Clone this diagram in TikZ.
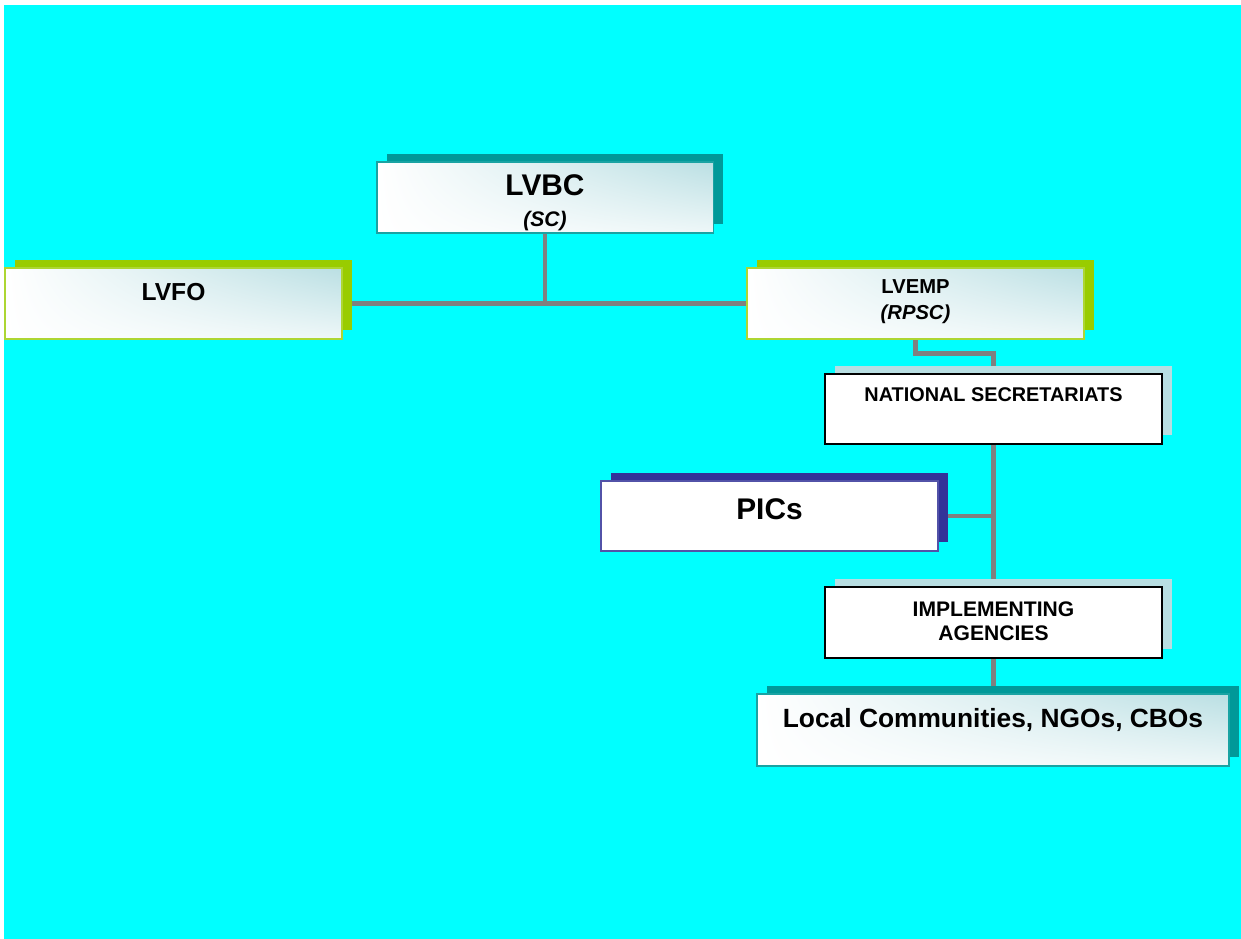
\documentclass[tikz,border=0pt]{standalone}
\usepackage{fontspec}
\setmainfont{Liberation Sans}
\usetikzlibrary{positioning,shadows,shadings,backgrounds}

\definecolor{pagecyan}{RGB}{0,255,255}
\definecolor{lvteal}{RGB}{0,153,153}
\definecolor{lvgreen}{RGB}{153,204,0}
\definecolor{lvnavy}{RGB}{51,51,153}
\definecolor{lvpale}{RGB}{184,222,226}
\definecolor{lvtint}{RGB}{186,223,227}
\definecolor{linkgray}{RGB}{128,128,128}

\pgfdeclarelayer{canvas}
\pgfsetlayers{canvas,background,main}

\tikzset{
  orgbox/.style={rectangle, inner sep=0pt, minimum width=6.74cm, minimum height=1.42cm, line width=1.1pt},
  tinted/.style={upper left=white, lower left=white, upper right=lvtint, lower right=lvtint!25!white},
  shadowed/.style={drop shadow={shadow xshift=0.2cm, shadow yshift=0.17cm, fill=#1, opacity=1}},
  boxtext/.style={inner sep=0pt, align=center, font=\bfseries},
  link/.style={draw=linkgray, line width=2.8pt}
}

\begin{document}
\begin{tikzpicture}[x=0.02cm, y=-0.02cm]
    \useasboundingbox (0,0) rectangle (1241,939);
    \begin{pgfonlayer}{canvas}
        \fill[pagecyan] (4,5) rectangle (1241,939);
    \end{pgfonlayer}

    % Top level
    \node[orgbox, tinted, draw=lvteal!90!white, shadowed=lvteal] (lvbc) at (545,197.5) {};
    \node[orgbox, tinted, draw=lvgreen!80!white, shadowed=lvgreen] (lvfo) at (173.5,303.5) {};
    \node[orgbox, tinted, draw=lvgreen!80!white, shadowed=lvgreen] (lvemp) at (915.5,303.5) {};

    % Lower levels
    \node[orgbox, fill=white, draw=black, minimum height=1.4cm, shadowed=lvpale] (natsec) at (993.5,409) {};
    \node[orgbox, fill=white, draw=lvnavy!85!white, minimum height=1.4cm, shadowed=lvnavy] (pics) at (769.5,516) {};
    \node[orgbox, fill=white, draw=black, shadowed=lvpale] (impl) at (993.5,622.5) {};
    \node[orgbox, tinted, draw=lvteal!90!white, minimum width=9.44cm, minimum height=1.44cm, shadowed=lvteal] (local) at (993,730) {};

    % Texts
    \node[boxtext, below=0.26cm of lvbc.north] {\fontsize{17}{15}\selectfont LVBC\\[6pt]{\fontsize{12}{14}\selectfont\itshape (SC)}};
    \node[boxtext, below=0.31cm of lvfo.north, font=\fontsize{14}{16}\selectfont\bfseries] {LVFO};
    \node[boxtext, below=0.25cm of lvemp.north, font=\fontsize{11.5}{14.5}\selectfont\bfseries] {LVEMP\\\itshape(RPSC)};
    \node[boxtext, below=0.29cm of natsec.north, font=\fontsize{11.3}{13}\selectfont\bfseries] {NATIONAL SECRETARIATS};
    \node[boxtext, below=0.37cm of pics.north, font=\fontsize{17}{20}\selectfont\bfseries] {PICs};
    \node[boxtext, below=0.31cm of impl.north, font=\fontsize{12}{13.6}\selectfont\bfseries] {IMPLEMENTING\\AGENCIES};
    \node[boxtext, below=0.31cm of local.north, font=\fontsize{15}{18}\selectfont\bfseries] {Local Communities, NGOs, CBOs};

    % Connectors
    \begin{scope}[on background layer]
        \draw[link] (lvfo.east) -- (lvemp.west);
        \draw[link] (lvbc.south) -- (lvbc.south |- lvfo.east);
        \draw[link] (lvemp.south) -- ++(0,14) -| (natsec.north);
        \draw[link] (natsec.south) -- (impl.north);
        \draw[link] (pics.east) -- (pics.east -| natsec.south);
        \draw[link] (impl.south) -- (impl.south |- local.north);
    \end{scope}
\end{tikzpicture}
\end{document}
